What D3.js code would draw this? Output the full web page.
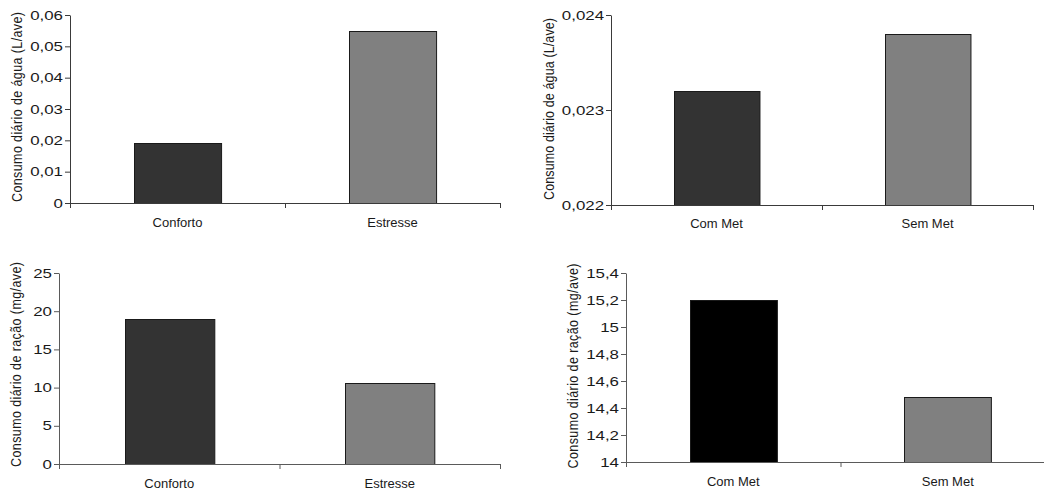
<!DOCTYPE html>
<html>
<head>
<meta charset="utf-8">
<script src="https://cdn.jsdelivr.net/npm/d3@7"></script>
<style>
  body { margin: 0; background: #fff; }
  svg { display: block; font-family: "Liberation Sans", Arial, sans-serif; }
</style>
</head>
<body>
<div id="chart"></div>
<script>
// Data
var ambiente = ["Conforto", "Estresse"];
var metionina = ["Com Met", "Sem Met"];
var aguaAmbiente = [0.019, 0.055];
var aguaMet = [0.0232, 0.0238];
var racaoAmbiente = [19, 10.6];
var racaoMet = [15.2, 14.48];
var ticksAguaAmbiente = [0, 0.01, 0.02, 0.03, 0.04, 0.05, 0.06];
var ticksAguaMet = [0.022, 0.023, 0.024];
var ticksRacaoAmbiente = [0, 5, 10, 15, 20, 25];
var ticksRacaoMet = [14, 14.2, 14.4, 14.6, 14.8, 15, 15.2, 15.4];

var width = 1044, height = 490;

// Portuguese number format (decimal comma)
var pt = d3.formatLocale({ decimal: ",", thousands: ".", grouping: [3], currency: ["R$", ""] });

var svg = d3.select("#chart")
  .append("svg")
  .attr("width", width)
  .attr("height", height);

// One panel per chart
var panels = [
  { cats: ambiente, values: aguaAmbiente, ticks: ticksAguaAmbiente, fmt: pt.format(".2~f"),
    colors: ["#333333", "#808080"], axisColor: "#3a3a3a",
    label: "Consumo diário de água (L/ave)", x0: 70, x1: 500, yTop: 15, yBot: 203,
    labelX: 22, labelY: 107, labelLen: 190, catY: 15 },
  { cats: metionina, values: aguaMet, ticks: ticksAguaMet, fmt: pt.format(".3f"),
    colors: ["#333333", "#808080"], axisColor: "#3a3a3a",
    label: "Consumo diário de água (L/ave)", x0: 611, x1: 1033, yTop: 15, yBot: 205,
    labelX: 554.5, labelY: 109, labelLen: 182, catY: 14 },
  { cats: ambiente, values: racaoAmbiente, ticks: ticksRacaoAmbiente, fmt: pt.format("d"),
    colors: ["#333333", "#808080"], axisColor: "#5a5a5a",
    label: "Consumo diário de ração (mg/ave)", x0: 59, x1: 500, yTop: 273, yBot: 464,
    labelX: 21.5, labelY: 364.5, labelLen: 205, catY: 15 },
  { cats: metionina, values: racaoMet, ticks: ticksRacaoMet, fmt: pt.format(".1~f"),
    colors: ["#000000", "#808080"], axisColor: "#5a5a5a",
    label: "Consumo diário de ração (mg/ave)", x0: 626, x1: 1055, yTop: 273, yBot: 462,
    labelX: 578, labelY: 366, labelLen: 205, catY: 15 }
];

panels.forEach(function (p) {
  var g = svg.append("g");

  var x = d3.scaleBand()
    .domain(p.cats)
    .range([p.x0, p.x1])
    .paddingInner(0.595)
    .paddingOuter(0.2975);

  var y = d3.scaleLinear()
    .domain(d3.extent(p.ticks))
    .range([p.yBot, p.yTop]);

  // Bars
  g.selectAll(".bar")
    .data(p.values)
    .enter()
    .append("rect")
    .attr("class", "bar")
    .attr("x", function (d, i) { return Math.round(x(p.cats[i])) + 0.5; })
    .attr("y", function (d) { return Math.round(y(d)) + 0.5; })
    .attr("width", x.bandwidth())
    .attr("height", function (d) { return Math.round(y.range()[0]) - Math.round(y(d)); })
    .style("fill", function (d, i) { return p.colors[i]; })
    .style("stroke", "#1a1a1a")
    .style("stroke-width", 1);

  // X axis line with ticks at category boundaries
  var bounds = d3.scaleLinear().domain([0, p.cats.length]).range([p.x0, p.x1]);
  var xLine = g.append("g")
    .attr("transform", "translate(0," + Math.round(p.yBot) + ")")
    .call(d3.axisBottom(bounds).tickValues(d3.range(p.cats.length + 1)).tickSize(5).tickSizeOuter(0).tickFormat(""));
  xLine.selectAll("path, line").attr("stroke", p.axisColor);

  // Category labels
  var xLab = g.append("g")
    .attr("transform", "translate(0," + Math.round(p.yBot) + ")")
    .call(d3.axisBottom(x).tickSize(0).tickPadding(p.catY));
  xLab.select(".domain").remove();
  xLab.selectAll("text")
    .attr("fill", "#1a1a1a")
    .style("font-size", "13px")
    .style("font-family", "'Liberation Sans', Arial, sans-serif");

  // Y axis
  var yAxis = g.append("g")
    .attr("transform", "translate(" + p.x0 + ",0)")
    .call(d3.axisLeft(y).tickValues(p.ticks).tickSize(5).tickSizeOuter(0).tickPadding(2).tickFormat(p.fmt));
  yAxis.selectAll("path, line").attr("stroke", p.axisColor);
  yAxis.selectAll("text")
    .attr("fill", "#1a1a1a")
    .style("font-size", "12.5px")
    .style("font-family", "'Liberation Sans', Arial, sans-serif")
    .each(function () {
      // the original tick labels are stretched horizontally
      var t = d3.select(this);
      var tx = +t.attr("x");
      t.attr("x", 0).attr("transform", "translate(" + tx + ",0) scale(1.35,1)");
    });

  // Y axis title (glyphs a bit taller than normal, as in the original)
  var stretch = 1.2;
  g.append("text")
    .attr("transform", "rotate(-90) scale(1," + stretch + ")")
    .attr("x", -p.labelY)
    .attr("y", p.labelX / stretch)
    .attr("text-anchor", "middle")
    .attr("textLength", p.labelLen)
    .attr("lengthAdjust", "spacing")
    .attr("fill", "#1a1a1a")
    .style("font-size", "12.5px")
    .text(p.label);
});
</script>
</body>
</html>
